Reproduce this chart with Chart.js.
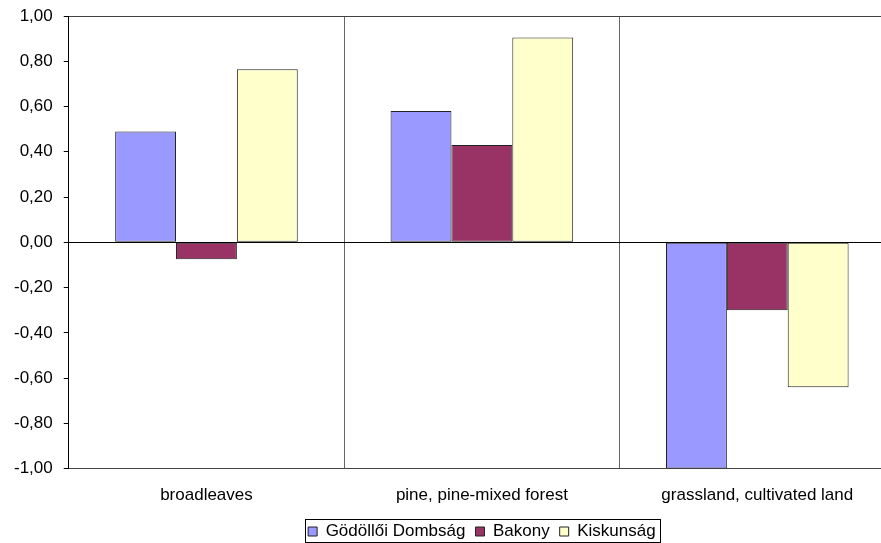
<!DOCTYPE html>
<html>
<head>
<meta charset="utf-8">
<script src="https://cdn.jsdelivr.net/npm/chart.js@4"></script>
<style>
  html, body { margin: 0; padding: 0; background: #fff; overflow: hidden; }
  #wrap { width: 910px; height: 543px; }
</style>
</head>
<body>
<div id="wrap"><canvas id="barChart"></canvas></div>
<script>
const categories = ['broadleaves', 'pine, pine-mixed forest', 'grassland, cultivated land'];
const godolloi = [0.49, 0.58, -1.00];
const bakony = [-0.075, 0.43, -0.30];
const kiskunsag = [0.765, 0.905, -0.64];

const fmt = v => v.toFixed(2).replace('.', ',');

// draw a frame round the legend items, like the old spreadsheet legend
const legendFrame = {
    id: 'legendFrame',
    afterDraw(chart) {
        const boxes = chart.legend.legendHitBoxes;
        if (!boxes || !boxes.length) return;
        const left = Math.min(...boxes.map(b => b.left));
        const right = Math.max(...boxes.map(b => b.left + b.width));
        const mid = boxes[0].top + boxes[0].height / 2;
        const ctx = chart.ctx;
        ctx.save();
        ctx.strokeStyle = '#000';
        ctx.lineWidth = 1;
        const x0 = Math.round(left - 3) + 0.5;
        const x1 = Math.round(right + 4) + 0.5;
        const y0 = Math.round(mid - 13) + 0.5;
        const y1 = Math.round(mid + 10) + 0.5;
        ctx.strokeRect(x0, y0, x1 - x0, y1 - y0);
        ctx.restore();
    }
};

const config = {
    type: 'bar',
    data: {
        labels: categories,
        datasets: [
            { label: 'Gödöllői Dombság', data: godolloi, backgroundColor: '#9999FF' },
            { label: 'Bakony', data: bakony, backgroundColor: '#993366' },
            { label: 'Kiskunság', data: kiskunsag, backgroundColor: '#FFFFCC' }
        ]
    },
    options: {
        responsive: true,
        maintainAspectRatio: false,
        animation: false,
        layout: { padding: { left: 14, top: 16, right: 15, bottom: 0 } },
        datasets: {
            bar: {
                borderColor: '#222',
                borderWidth: 1,
                borderSkipped: false,
                categoryPercentage: 0.663,
                barPercentage: 1
            }
        },
        scales: {
            x: {
                grid: {
                    offset: true,
                    color: '#666',
                    tickColor: 'rgba(0,0,0,0)',
                    tickLength: 10
                },
                border: { color: '#444' },
                ticks: {
                    color: '#000',
                    padding: 7,
                    font: { family: 'Liberation Sans, Arial', size: 17 }
                }
            },
            y: {
                min: -1,
                max: 1,
                ticks: {
                    stepSize: 0.2,
                    color: '#000',
                    padding: 0,
                    font: { family: 'Liberation Sans, Arial', size: 17 },
                    callback: v => fmt(v)
                },
                grid: {
                    color: c => {
                        const v = c.tick ? c.tick.value : 0;
                        if (Math.abs(v) < 1e-9) return '#000';
                        if (Math.abs(v - 1) < 1e-9) return '#444';
                        return 'rgba(0,0,0,0)';
                    },
                    tickColor: '#000',
                    tickLength: 16,
                    tickBorderDash: [0, 11, 5, 0]
                },
                border: { color: '#000' }
            }
        },
        plugins: {
            legend: {
                position: 'bottom',
                fullSize: false,
                maxHeight: 30,
                labels: {
                    color: '#000',
                    boxWidth: 9,
                    boxHeight: 9,
                    padding: 10,
                    font: { family: 'Liberation Sans, Arial', size: 17 }
                }
            },
            tooltip: { enabled: false }
        }
    },
    plugins: [legendFrame]
};

const ctx = document.getElementById('barChart').getContext('2d');
const myChart = new Chart(ctx, config);
</script>
</body>
</html>
